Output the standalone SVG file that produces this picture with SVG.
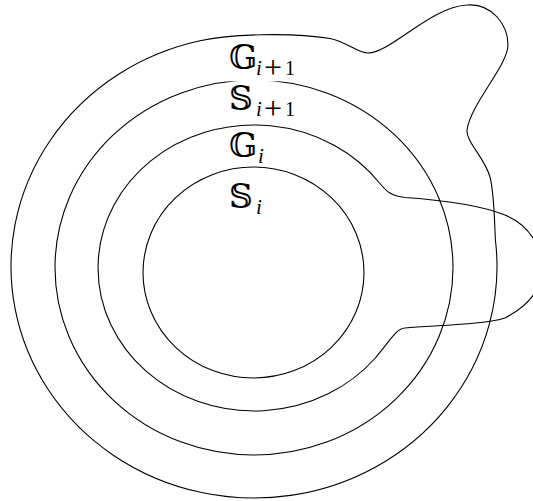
<svg xmlns="http://www.w3.org/2000/svg" width="533" height="501" viewBox="0 0 533 501">
<style>
.c{fill:none;stroke:#000;stroke-width:1.1}
.bb{font-family:"DejaVu Serif","DejaVu Sans","Noto Sans",serif;font-size:33px;fill:#000}
.si{font-family:"Liberation Serif",serif;font-style:italic;font-size:21px;fill:#000}
.sp{font-family:"Liberation Serif",serif;font-size:32px;fill:#000}
.sr{font-family:"Liberation Serif",serif;font-size:20px;fill:#000}
</style>
<rect width="533" height="501" fill="#fff"/>
<g id="connectors">
<g id="region-G_i1">
<path class="c" d="M495.4 240 A243 231.5 0 1 1 200 40.8 C230 34.3 290 32 330 38.5 C345 41 358 53 368 53 C392 52 430 7 467 5 C492 3 508 25 508 45 C508 65 470 105 467 130 C466 142 485 158 490 177 C494 192 494.5 220 495.4 240 Z"/>
</g>
<g id="region-S_i1">
<ellipse class="c" cx="254" cy="267.5" rx="199" ry="187.5"/>
</g>
<g id="region-G_i">
<path class="c" d="M379.5 183 C387 192 391 196 405 197.5 C440 200 480 205 505 215 C530 225 542 248 542 268 C542 288 530 305 505 318 C487 324 445 325 405 328 C396 328.5 390 341 375.3 358 A156 143 0 1 1 379.5 183 Z"/>
</g>
<g id="region-S_i">
<ellipse class="c" cx="253.5" cy="272.5" rx="110.5" ry="105.5"/>
</g>
</g>
<g id="label-G_i1">
<rect x="226" y="44" width="71" height="37.3" fill="#fff"/>
<text class="bb" x="229" y="69">𝔾</text>
<text class="si" x="256" y="75">i</text>
<text class="sp" x="264" y="77.5">+</text>
<text class="sr" x="285" y="75">1</text>
</g>
<g id="label-S_i1">
<text class="bb" x="229" y="110">𝕊</text>
<text class="si" x="256" y="116">i</text>
<text class="sp" x="264" y="118.5">+</text>
<text class="sr" x="285" y="116">1</text>
</g>
<g id="label-G_i">
<text class="bb" x="229" y="157">𝔾</text>
<text class="si" x="258" y="163">i</text>
</g>
<g id="label-S_i">
<text class="bb" x="229" y="208">𝕊</text>
<text class="si" x="256" y="214">i</text>
</g>
</svg>
